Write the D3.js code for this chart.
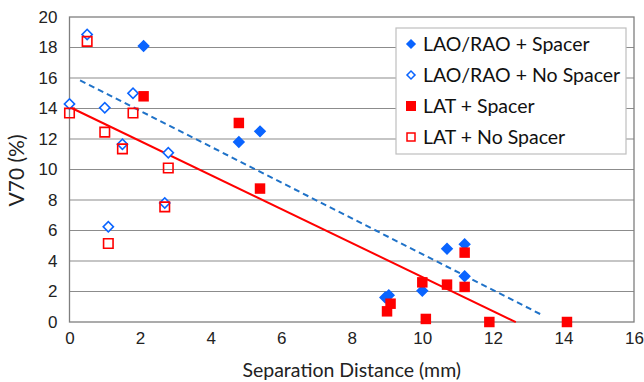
<!DOCTYPE html>
<html>
<head>
<meta charset="utf-8">
<script src="https://cdn.jsdelivr.net/npm/d3@7"></script>
<style>
  body { margin: 0; background: #fff; }
  svg { display: block; font-family: Lato, "Open Sans", sans-serif; }
</style>
</head>
<body>
<div id="chart"></div>
<script>
// series: [separation distance (mm), V70 (%)]
const laoSpacer = [[2.1, 18.1], [4.8, 11.8], [5.4, 12.5], [8.95, 1.6], [9.05, 1.75], [10.0, 2.05],
  [10.7, 4.8], [11.2, 5.1], [11.2, 3.0]]
const laoNoSpacer = [[0.5, 18.85], [0.0, 14.3], [1.0, 14.05], [1.8, 15.0], [1.5, 11.65],
  [2.8, 11.1], [1.1, 6.25], [2.7, 7.8]]
const latSpacer = [[2.1, 14.8], [4.8, 13.05], [5.4, 8.75], [9.0, 0.7], [9.1, 1.2], [10.0, 2.6],
  [10.1, 0.2], [10.7, 2.45], [11.2, 4.55], [11.2, 2.3], [11.9, 0.0], [14.1, 0.0]]
const latNoSpacer = [[0.5, 18.4], [0.0, 13.7], [1.0, 12.45], [1.8, 13.7], [1.5, 11.35],
  [2.8, 10.1], [1.1, 5.15], [2.7, 7.55]]

// linear trend lines: [x start, x end, slope, intercept]
const laoTrend = [0.3, 13.35, -1.175, 16.2]
const latTrend = [0.0, 12.65, -1.115, 14.1]

const legendLabels = ["LAO/RAO + Spacer", "LAO/RAO + No Spacer", "LAT + Spacer", "LAT + No Spacer"]
const xTicks = [0, 2, 4, 6, 8, 10, 12, 14, 16]
const yTicks = [0, 2, 4, 6, 8, 10, 12, 14, 16, 18, 20]

const width = 644
const height = 382
const marginTop = 17
const marginRight = 10
const marginBottom = 60
const marginLeft = 69.5

const blue = "#0a64ff"
const red = "#ff0000"
const dashBlue = "#1f72c8"

const svg = d3.select("#chart").append("svg")
  .attr("width", width)
  .attr("height", height)

const x = d3.scaleLinear([0, 16], [marginLeft, width - marginRight])
const y = d3.scaleLinear([0, 20], [height - marginBottom, marginTop])

// gridlines
svg.append("g")
  .attr("stroke", "#8c8c8c")
  .attr("stroke-width", 1.2)
  .selectAll("line")
  .data(yTicks.slice(1, -1))
  .join("line")
  .attr("x1", marginLeft)
  .attr("x2", width - marginRight)
  .attr("y1", d => y(d))
  .attr("y2", d => y(d))

// plot frame
svg.append("rect")
  .attr("x", marginLeft)
  .attr("y", marginTop)
  .attr("width", width - marginRight - marginLeft)
  .attr("height", height - marginBottom - marginTop)
  .attr("fill", "none")
  .attr("stroke", "#7f7f7f")
  .attr("stroke-width", 1.3)

// axes (labels only)
const xAxis = d3.axisBottom(x).tickValues(xTicks).tickSize(0).tickPadding(10)
svg.append("g")
  .attr("transform", `translate(0,${height - marginBottom})`)
  .call(xAxis)
  .call(g => g.select(".domain").remove())
  .call(g => g.selectAll("text").attr("font-size", 17).attr("fill", "#222").attr("font-family", null))

const yAxis = d3.axisLeft(y).tickValues(yTicks).tickSize(0).tickPadding(12)
svg.append("g")
  .attr("transform", `translate(${marginLeft},0)`)
  .call(yAxis)
  .call(g => g.select(".domain").remove())
  .call(g => g.selectAll("text").attr("font-size", 17).attr("fill", "#222").attr("font-family", null))

svg.append("text")
  .attr("x", (marginLeft + width - marginRight) / 2)
  .attr("y", 377)
  .attr("text-anchor", "middle")
  .attr("font-size", 19.5)
  .attr("fill", "#222")
  .text("Separation Distance (mm)")

svg.append("text")
  .attr("transform", `translate(24,${y(10) + 1}) rotate(-90)`)
  .attr("text-anchor", "middle")
  .attr("font-size", 21)
  .attr("fill", "#222")
  .text("V70 (%)")

// trend lines
const trendLine = t => [[t[0], t[3] + t[2] * t[0]], [t[1], t[3] + t[2] * t[1]]]
const line = d3.line().x(d => x(d[0])).y(d => y(d[1]))

svg.append("path")
  .attr("d", line(trendLine(laoTrend)))
  .attr("fill", "none")
  .attr("stroke", dashBlue)
  .attr("stroke-width", 2)
  .attr("stroke-dasharray", "6,4")

svg.append("path")
  .attr("d", line(trendLine(latTrend)))
  .attr("fill", "none")
  .attr("stroke", red)
  .attr("stroke-width", 2)

// markers
const diamond = d3.symbol().type(d3.symbolSquare).size(52)()
const square = d3.symbol().type(d3.symbolSquare).size(110)()
const squareOpen = d3.symbol().type(d3.symbolSquare).size(90)()

const series = [
  {data: laoNoSpacer, path: diamond, rot: 45, fill: "#fff", stroke: blue},
  {data: latNoSpacer, path: squareOpen, rot: 0, fill: "none", stroke: red},
  {data: laoSpacer, path: diamond, rot: 45, fill: blue, stroke: blue},
  {data: latSpacer, path: square, rot: 0, fill: red, stroke: "none"}
]

series.forEach(s => {
  svg.append("g")
    .selectAll("path")
    .data(s.data)
    .join("path")
    .attr("transform", d => `translate(${x(d[0])},${y(d[1])}) rotate(${s.rot})`)
    .attr("d", s.path)
    .attr("fill", s.fill)
    .attr("stroke", s.stroke)
    .attr("stroke-width", 1.6)
})

// legend
const legend = svg.append("g").attr("transform", "translate(396,28)")
legend.append("rect")
  .attr("width", 230)
  .attr("height", 126)
  .attr("fill", "#fff")
  .attr("stroke", "#bfbfbf")
  .attr("stroke-width", 1.2)

const legendMarks = [
  {path: d3.symbol().type(d3.symbolSquare).size(32)(), rot: 45, fill: blue, stroke: blue},
  {path: d3.symbol().type(d3.symbolSquare).size(32)(), rot: 45, fill: "#fff", stroke: blue},
  {path: d3.symbol().type(d3.symbolSquare).size(100)(), rot: 0, fill: red, stroke: "none"},
  {path: d3.symbol().type(d3.symbolSquare).size(64)(), rot: 0, fill: "none", stroke: red}
]

legendLabels.forEach((label, i) => {
  const row = legend.append("g").attr("transform", `translate(0,${16 + i * 31})`)
  row.append("path")
    .attr("transform", `translate(15,0) rotate(${legendMarks[i].rot})`)
    .attr("d", legendMarks[i].path)
    .attr("fill", legendMarks[i].fill)
    .attr("stroke", legendMarks[i].stroke)
    .attr("stroke-width", 1.5)
  row.append("text")
    .attr("x", 27)
    .attr("y", 7)
    .attr("font-size", 19.5)
    .attr("fill", "#111")
    .text(label)
})
</script>
</body>
</html>
